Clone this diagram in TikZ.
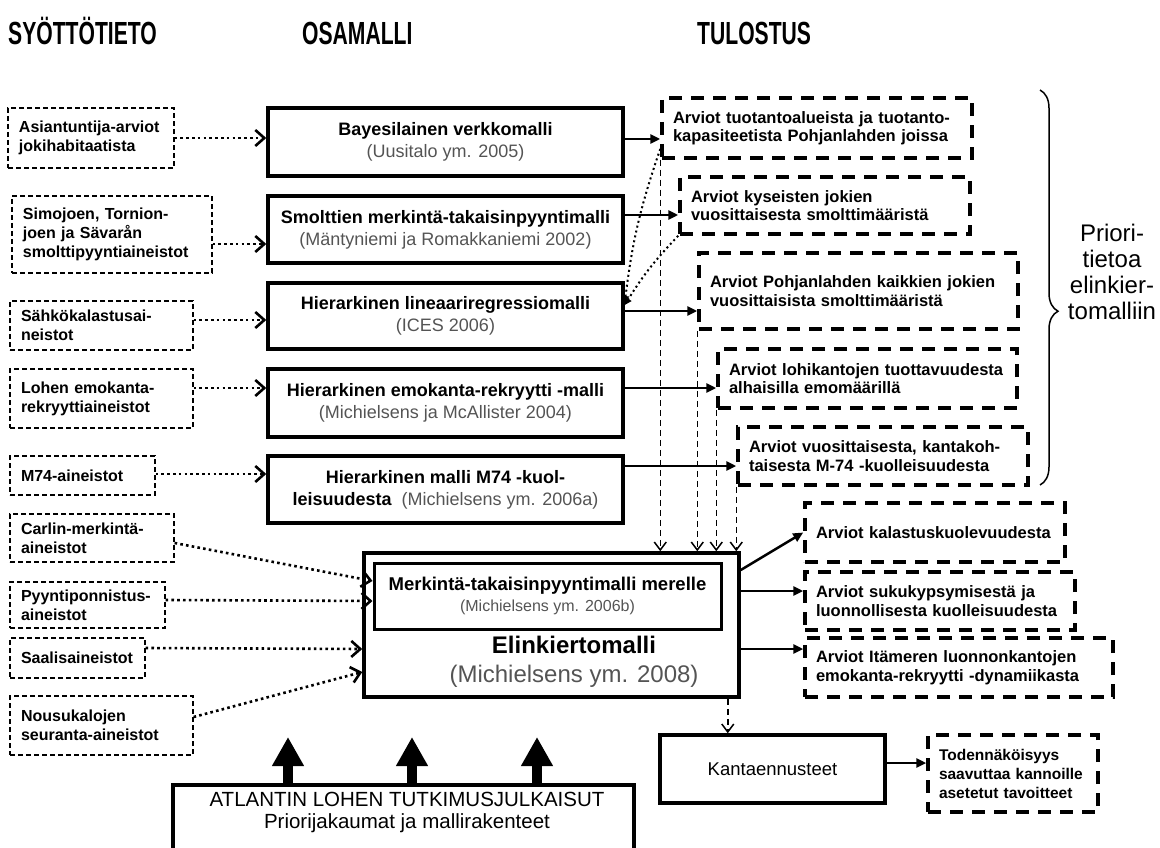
\documentclass[tikz,border=0pt]{standalone}
\usepackage{fontspec}
\setmainfont{Liberation Sans}
\newfontfamily\kapea[FakeStretch=0.66]{Liberation Sans}
\usetikzlibrary{calc,arrows.meta,decorations.pathreplacing}
\definecolor{viite}{gray}{0.33}
\newcommand{\lahde}[1]{{\mdseries\color{viite}#1}}
\tikzset{
	syote/.style={draw,line width=1.2pt,dash pattern=on 5pt off 3pt,align=left,inner xsep=11pt,inner ysep=0pt,font=\fontsize{16}{19}\selectfont\bfseries},
	osamalli/.style={draw,line width=3.5pt,align=center,inner sep=2pt,font=\fontsize{18}{22}\selectfont\bfseries},
	tulos/.style={draw,line width=3.5pt,dash pattern=on 13pt off 9pt,align=left,inner xsep=11pt,inner ysep=0pt,font=\fontsize{16.5}{18.5}\selectfont\bfseries},
	otsikko/.style={anchor=base west,inner sep=0pt,font=\kapea\fontsize{32}{32}\selectfont\bfseries},
	pisteet/.style={line width=2.6pt,dash pattern=on 2.6pt off 3.2pt,arrows={-Straight Barb[length=9pt,width=16pt,line width=2.6pt]}},
	pisteet2/.style={line width=2pt,dash pattern=on 2pt off 3pt,arrows={-Triangle[length=7pt,width=7pt]}},
	nuoli/.style={line width=2.5pt,arrows={-Triangle[length=10pt,width=9pt]}},
	katko/.style={line width=1.5pt,dash pattern=on 6pt off 4pt,arrows={-Straight Barb[length=8pt,width=12pt,line width=1.5pt]}}
	}

\begin{document}
\begin{tikzpicture}[
		x=1pt,y=-1pt,
		ylos/.style={line width=10pt,arrows={-Triangle[length=29pt,width=30pt]}},
		sulku/.style={decorate,decoration={brace,amplitude=18pt,aspect=0.56},line width=1.5pt}]
		\clip (0,0) rectangle (1160,848);
		\node[otsikko] (syotto) at (8,45) {SYÖTTÖTIETO};
		\node[otsikko] (osa) at (302,45) {OSAMALLI};
		\node[otsikko] (tulostus) at (697,45) {TULOSTUS};

		\node[syote,text width=144pt,minimum height=60] (asiantuntija) at (91,138) {Asiantuntija-arviot\\jokihabitaatista};
		\node[syote,text width=178pt,minimum height=77] (simo) at (112,234.5) {Simojoen, Tornion-\\joen ja Sävarån\\smolttipyyntiaineistot};
		\node[syote,text width=161pt,minimum height=49] (sahko) at (101.5,325.5) {Sähkökalastusai-\\neistot};
		\node[syote,text width=161pt,minimum height=59] (lohi) at (101.5,398.5) {Lohen emokanta-\\rekryyttiaineistot};
		\node[syote,text width=123pt,minimum height=39] (m74) at (82.5,475.5) {M74-aineistot};
		\node[syote,text width=142pt,minimum height=48] (carlin) at (92,538) {Carlin-merkintä-\\aineistot};
		\node[syote,text width=133pt,minimum height=46] (pyynti) at (87.5,605) {Pyyntiponnistus-\\aineistot};
		\node[syote,text width=113pt,minimum height=40] (saalis) at (77.5,658) {Saalisaineistot};
		\node[syote,text width=161pt,minimum height=59] (nousu) at (101.5,725.5) {Nousukalojen\\seuranta-aineistot};

		\node[osamalli,minimum width=355,minimum height=68] (bayes) at (445.5,142) {Bayesilainen verkkomalli\\\lahde{(Uusitalo ym. 2005)}};
		\node[osamalli,minimum width=355,minimum height=67] (smoltti) at (445.5,229.5) {Smolttien merkintä-takaisinpyyntimalli\\\lahde{(Mäntyniemi ja Romakkaniemi 2002)}};
		\node[osamalli,minimum width=355,minimum height=66] (hlr) at (445.5,316) {Hierarkinen lineaariregressiomalli\\\lahde{(ICES 2006)}};
		\node[osamalli,minimum width=355,minimum height=68] (emokanta) at (445.5,403) {Hierarkinen emokanta-rekryytti -malli\\\lahde{(Michielsens ja McAllister 2004)}};
		\node[osamalli,minimum width=355,minimum height=67] (m74malli) at (445.5,489.5) {Hierarkinen malli M74 -kuol-\\leisuudesta\ \ \lahde{(Michielsens ym. 2006a)}};

		\node[tulos,text width=288pt,minimum height=60] (tuotanto) at (817,128) {Arviot tuotantoalueista ja tuotanto-\\kapasiteetista Pohjanlahden joissa};
		\node[tulos,text width=268pt,minimum height=57] (kyseiset) at (825,205.5) {Arviot kyseisten jokien\\vuosittaisesta smolttimääristä};
		\node[tulos,text width=297pt,minimum height=76] (kaikki) at (858.5,291) {Arviot Pohjanlahden kaikkien jokien\\vuosittaisista smolttimääristä};
		\node[tulos,text width=277pt,minimum height=59] (tuottavuus) at (867.5,378.5) {Arviot lohikantojen tuottavuudesta\\alhaisilla emomäärillä};
		\node[tulos,text width=268pt,minimum height=58] (kuolleisuus) at (883,456) {Arviot vuosittaisesta, kantakoh-\\taisesta M-74 -kuolleisuudesta};
		\node[tulos,text width=238pt,minimum height=59] (kalastus) at (935,532.5) {Arviot kalastuskuolevuudesta};
		\node[tulos,text width=248pt,minimum height=58] (suku) at (940,601) {Arviot sukukypsymisestä ja\\luonnollisesta kuolleisuudesta};
		\node[tulos,text width=286pt,minimum height=59] (dynamiikka) at (959,667.5) {Arviot Itämeren luonnonkantojen\\emokanta-rekryytti -dynamiikasta};

		\node[osamalli,minimum width=375,minimum height=144] (elin) at (551.5,625) {};
		\node[osamalli,line width=3pt,minimum width=347,minimum height=66,font=\fontsize{18.5}{21}\selectfont\bfseries] (meri) at (547.5,596) {Merkintä-takaisinpyyntimalli merelle\\{\fontsize{16}{19}\selectfont\lahde{(Michielsens ym. 2006b)}}};
		\node[align=center,font=\fontsize{24}{29}\selectfont] (elinteksti) at (574,662) {{\bfseries Elinkiertomalli}\\\lahde{(Michielsens ym. 2008)}};

		\node[osamalli,minimum width=225,minimum height=68,font=\fontsize{18.5}{22}\selectfont] (kanta) at (772.5,769) {Kantaennusteet};
		\node[tulos,inner xsep=11pt,text width=148pt,minimum height=77,font=\fontsize{15.5}{19}\selectfont\bfseries] (tod) at (1013,773.5) {Todennäköisyys\\saavuttaa kannoille\\asetetut tavoitteet};

		\node[osamalli,minimum width=461,minimum height=100,anchor=north] (atl) at (403.5,783) {};
		\node[align=center,font=\fontsize{20.5}{22}\selectfont] (atlteksti) at (407,812) {ATLANTIN LOHEN TUTKIMUSJULKAISUT\\Priorijakaumat ja mallirakenteet};
		\foreach \x/\n in {288/1,412/2,537/3}{
			\coordinate (karki\n) at (\x,737);
			\draw[ylos] (karki\n |- atl.north) -- (karki\n);
		}

		\coordinate (sulkuyla) at (1040,90);
		\coordinate (sulkuala) at (1040,485);
		\draw[sulku] (sulkuyla) -- (sulkuala);
		\node[align=center,font=\fontsize{24}{26}\selectfont] (priori) at (1112,272) {Priori-\\tietoa\\elinkier-\\tomalliin};

		\draw[pisteet] (asiantuntija.east) -- (asiantuntija.east -| bayes.west);
		\draw[pisteet] ([yshift=-9.5pt]simo.east) coordinate (a2) -- (a2 -| smoltti.west);
		\draw[pisteet] ([yshift=5.5pt]sahko.east) coordinate (a3) -- (a3 -| hlr.west);
		\draw[pisteet] ([yshift=10.5pt]lohi.east) coordinate (a4) -- (a4 -| emokanta.west);
		\draw[pisteet] ([yshift=1.5pt]m74.east) coordinate (a5) -- (a5 -| m74malli.west);
		\draw[pisteet] ([yshift=-5pt]carlin.east) -- ([yshift=15pt]meri.west);
		\draw[pisteet] ([yshift=5pt]pyynti.east) -- ([yshift=-5pt]meri.west);
		\draw[pisteet] ([yshift=10pt]saalis.east) -- ([yshift=-24pt]elin.west);
		\draw[pisteet] ([yshift=8.5pt]nousu.east) -- ([yshift=-47pt]elin.west);

		\draw[nuoli] ([yshift=3pt]bayes.east) coordinate (b1) -- (b1 -| tuotanto.west);
		\draw[nuoli] ([yshift=14.5pt]smoltti.east) coordinate (b2) -- (b2 -| kyseiset.west);
		\draw[nuoli] ([yshift=5pt]hlr.east) coordinate (b3) -- (b3 -| kaikki.west);
		\draw[nuoli] ([yshift=15pt]emokanta.east) coordinate (b4) -- (b4 -| tuottavuus.west);
		\draw[nuoli] ([yshift=23.5pt]m74malli.east) coordinate (b5) -- (b5 -| kuolleisuus.west);

		\draw[pisteet2] ([yshift=-21pt]tuotanto.west) to[bend right=6] ([yshift=13pt]hlr.east);
		\draw[pisteet2] (kyseiset.south west) to[bend right=6] ([yshift=11pt]hlr.east);

		\draw[katko] (tuotanto.south west) -- (tuotanto.south west |- elin.north);
		\draw[katko] (kaikki.south west) -- (kaikki.south west |- elin.north);
		\draw[katko] (tuottavuus.south west) -- (tuottavuus.south west |- elin.north);
		\draw[katko] (kuolleisuus.south west) -- (kuolleisuus.south west |- elin.north);

		\draw[nuoli] ([yshift=55pt]elin.east) -- (kalastus.west);
		\draw[nuoli] ([yshift=34pt]elin.east) coordinate (e2) -- (e2 -| suku.west);
		\draw[nuoli] ([yshift=-24pt]elin.east) coordinate (e3) -- (e3 -| dynamiikka.west);
		\draw[katko] ([xshift=-13pt]elin.south east) coordinate (e4) -- (e4 |- kanta.north);
		\draw[nuoli] ([yshift=6pt]kanta.east) coordinate (k1) -- (k1 -| tod.west);
\end{tikzpicture}
\end{document}
